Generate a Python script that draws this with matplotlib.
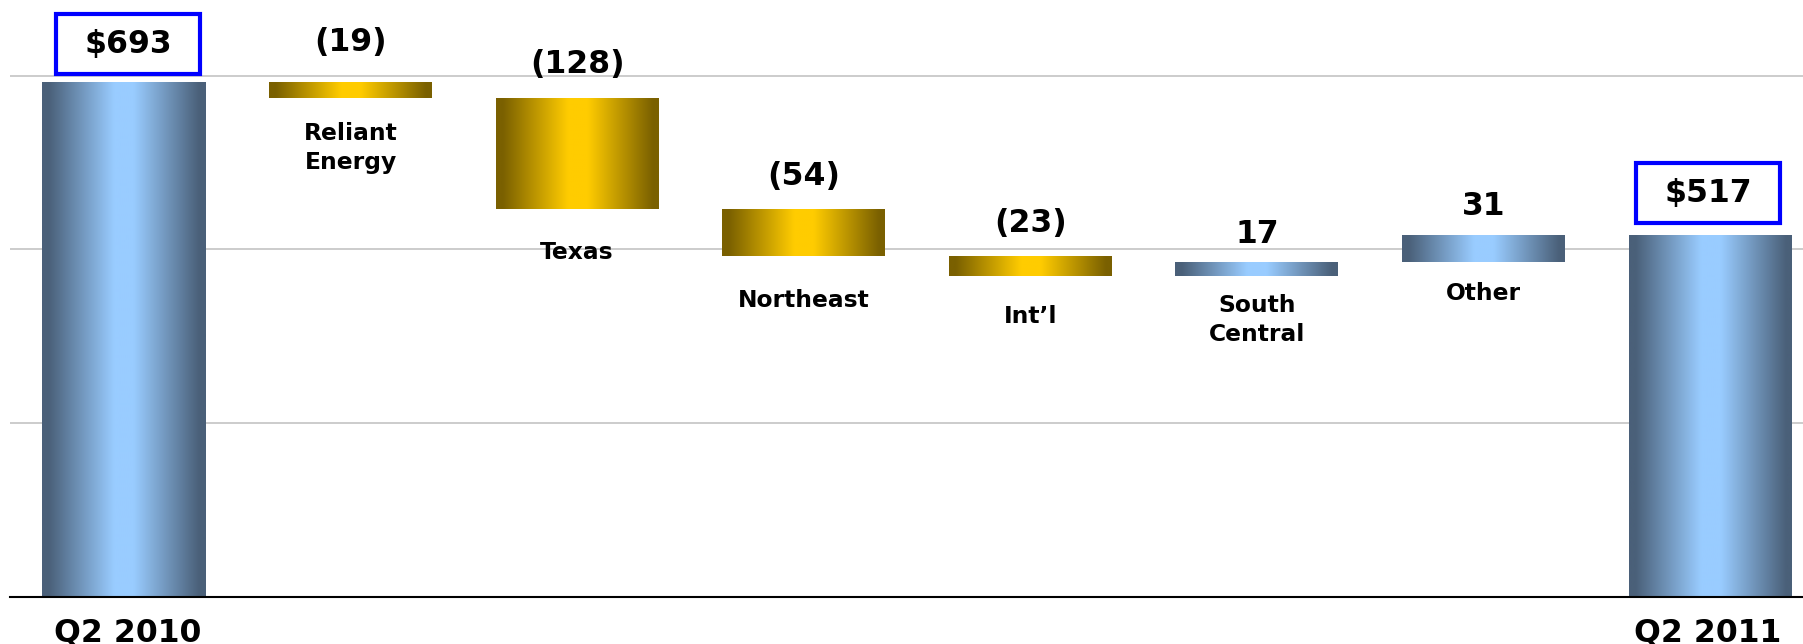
import numpy as np
import matplotlib.pyplot as plt

# Waterfall data (Q2 2010 -> Q2 2011)
categories = ['Q2 2010', 'Reliant\nEnergy', 'Texas', 'Northeast', 'Int’l',
              'South\nCentral', 'Other', 'Q2 2011']
changes = [693, -19, -128, -54, -23, 17, 31, 517]
is_total = [True, False, False, False, False, False, False, True]
value_labels = ['$693', '(19)', '(128)', '(54)', '(23)', '17', '31', '$517']

# layout tweaks (pixels): value label baseline above bar top, category label top below bar bottom
val_off = [29, 31, 25, 24, 24, 19, 20, 33]
cat_off = [21, 24, 32, 33, 29, 18, 20, 21]
x_shift = [4, 0, 0, 0, 0, 0, 0, -2]

blue_dark, blue_light = np.array([74, 96, 121]) / 255, np.array([153, 204, 255]) / 255
gold_dark, gold_light = np.array([122, 96, 0]) / 255, np.array([255, 204, 0]) / 255


def gradient(dark, light, n=256):
    s = np.linspace(0, 1, n)
    t = np.interp(s, [0, 0.04, 0.44, 0.56, 0.96, 1], [0, 0, 1, 1, 0, 0])
    return (dark[None, :] * (1 - t[:, None]) + light[None, :] * t[:, None])[None, :, :]


plt.rcParams['font.family'] = 'DejaVu Sans'
plt.rcParams['font.weight'] = 'bold'

fig = plt.figure(figsize=(18.03, 6.44), dpi=100)
ax = fig.add_axes([10 / 1803, 47 / 644, 1 - 10 / 1803, 1 - 47 / 644])

# running levels for the floating bars
bottoms, heights = [], []
level = 0
for v, tot in zip(changes, is_total):
    if tot:
        bottoms.append(0)
        heights.append(v)
        level = v
    else:
        new = level + v
        bottoms.append(min(level, new))
        heights.append(abs(v))
        level = new

x = np.arange(len(categories))
bars = ax.bar(x, heights, bottom=bottoms, width=0.72, color='none', edgecolor='none', zorder=2)

for i, patch in enumerate(bars.patches):
    if is_total[i] or changes[i] > 0:
        g = gradient(blue_dark, blue_light)
    else:
        g = gradient(gold_dark, gold_light)
    x0, y0 = patch.get_x(), patch.get_y()
    im = ax.imshow(g, extent=[x0, x0 + patch.get_width(), y0, y0 + patch.get_height()],
                   aspect='auto', interpolation='bilinear', zorder=2)
    # keep the axes clip box, add the bar outline as clip path
    im.set_clip_path(patch.get_path(), patch.get_transform())

    top = y0 + patch.get_height()
    dx = x_shift[i] * 0.72
    if is_total[i]:
        t = ax.annotate(value_labels[i], (x[i], top), xytext=(dx, val_off[i] * 0.72),
                        textcoords='offset points', ha='center', va='baseline',
                        fontsize=22.7, fontweight='bold', zorder=5)
        t.set_bbox(dict(boxstyle='square,pad=0.9', mutation_aspect=0.5,
                        facecolor='white', edgecolor='#0000ff', linewidth=3))
        ax.annotate(categories[i], (x[i], 100), xytext=(dx, -cat_off[i] * 0.72),
                    textcoords='offset points', ha='center', va='top',
                    fontsize=22.7, fontweight='bold', annotation_clip=False)
    else:
        ax.annotate(value_labels[i], (x[i], top), xytext=(dx, val_off[i] * 0.72),
                    textcoords='offset points', ha='center', va='baseline',
                    fontsize=22.7, fontweight='bold')
        ax.annotate(categories[i], (x[i], y0), xytext=(dx, -cat_off[i] * 0.72),
                    textcoords='offset points', ha='center', va='top',
                    fontsize=16.8, fontweight='bold', linespacing=1.3)

ax.set_xlim(-0.503, 7.41)
ax.set_ylim(100, 787)
ax.set_yticks([100, 300, 500, 700])
ax.set_yticklabels([])
ax.set_xticks([])
ax.tick_params(length=0)
ax.yaxis.grid(True, color='#c8c8c8', linewidth=1.3)
ax.set_axisbelow(True)
for s in ['top', 'left', 'right']:
    ax.spines[s].set_visible(False)
ax.spines['bottom'].set_linewidth(1.5)
ax.spines['bottom'].set_color('black')

fig.savefig('out.png', dpi=100)
